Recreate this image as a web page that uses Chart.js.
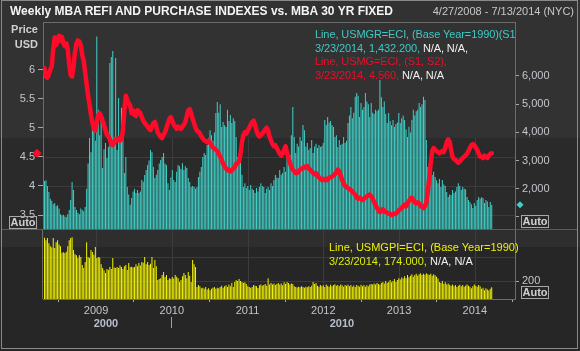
<!DOCTYPE html>
<html>
<head>
<meta charset="utf-8">
<script src="https://cdn.jsdelivr.net/npm/chart.js@4.4.1/dist/chart.umd.min.js"></script>
<style>
  body { margin: 0; background: #2b2b2b; }
  #stage { position: relative; width: 580px; height: 351px; overflow: hidden; background: #2b2b2b;
           font-family: "Liberation Sans", Arial, sans-serif; font-size: 11px; }
  .abs { position: absolute; }
  .txt { position: absolute; white-space: nowrap; line-height: 13px; }
  canvas { position: absolute; left: 0; }
  .auto { position: absolute; width: 26px; height: 11px; border: 1px solid #a8a8a8; color: #d0d0d0;
          font-weight: bold; line-height: 11px; text-align: center; }
  .na { color: #f0f0f0; }
</style>
</head>
<body>
<div id="stage">
  <!-- background bands -->
  <div class="abs" style="left:0;top:0;width:580px;height:138px;background:#323232"></div>
  <div class="abs" style="left:0;top:138px;width:580px;height:91px;background:#2a2a2a"></div>
  <div class="abs" style="left:0;top:229px;width:580px;height:18px;background:#2e2e2e"></div>
  <div class="abs" style="left:0;top:247px;width:580px;height:104px;background:#262626"></div>

  <!-- chart areas: top 22..229, bottom 229..299 (12px layout padding above/below) -->
  <canvas id="topChart" width="580" height="231" style="top:10px"></canvas>
  <canvas id="bottomChart" width="580" height="134" style="top:217px"></canvas>

  <!-- frame and panel separator -->
  <div class="abs" style="left:1px;top:229px;width:576px;height:1px;background:#5c5c5c"></div>
  <div class="abs" style="left:1px;top:0;width:575px;height:347px;border:1px solid #8a8a8a"></div>

  <div class="txt" style="left:10px;top:5px;color:#f4f4f4;font-weight:bold;font-size:12px">Weekly MBA REFI AND PURCHASE INDEXES vs. MBA 30 YR FIXED</div>
  <div class="txt" style="right:6px;top:5px;color:#c8c8c8">4/27/2008 - 7/13/2014 (NYC)</div>

  <div class="txt" style="left:0;width:38px;text-align:right;top:23px;color:#cfcfcf;font-weight:bold">Price</div>
  <div class="txt" style="left:0;width:38px;text-align:right;top:38px;color:#cfcfcf;font-weight:bold">USD</div>

  <div class="abs" style="left:315px;top:28px;width:200px;overflow:hidden;line-height:13.5px;white-space:nowrap;letter-spacing:-0.1px">
    <div style="color:#3ec9c6">Line, USMGR=ECI, (Base Year=1990)(S1, S2)</div>
    <div><span style="color:#3ec9c6" id="refiLast"></span> <span class="na">N/A, N/A,</span></div>
    <div style="color:#e8102a">Line, USMG=ECI, (S1, S2),</div>
    <div><span style="color:#e8102a" id="rateLast"></span> <span class="na">N/A, N/A</span></div>
  </div>

  <div class="abs" style="left:329px;top:240px;line-height:14px;white-space:nowrap">
    <div style="color:#f0f000">Line, USMGPI=ECI, (Base Year=1990)</div>
    <div><span style="color:#d8ec10" id="purchLast"></span> <span class="na">N/A, N/A</span></div>
  </div>

  <div class="auto" style="left:9px;top:216px">Auto</div>
  <div class="auto" style="left:521px;top:215px">Auto</div>
  <div class="auto" style="left:521px;top:286px">Auto</div>

  <div class="txt" style="left:86px;width:40px;text-align:center;top:317px;color:#b8bfcc;font-weight:bold">2000</div>
  <div class="abs" style="left:171px;top:317px;width:1px;height:11px;background:#a0a0a0"></div>
  <div class="txt" style="left:322px;width:40px;text-align:center;top:317px;color:#b8bfcc;font-weight:bold">2010</div>
</div>

<script>
// -------------------- DATA --------------------
// weekly observations, first week 4/27/2008, last week 3/23/2014
const firstWeek = 2008.32;
const xMin = 2008.30;
const xMax = 2014.53;

const yearTicks = [2009, 2010, 2011, 2012, 2013, 2014];
const priceTicks = [3.5, 4, 4.5, 5, 5.5, 6];
const refiTicks = [1000, 2000, 3000, 4000, 5000, 6000];
const purchaseTicks = [200, 300];

// MBA 30 yr fixed rate (USMG=ECI), left axis
const rate30yr = [
  6.02, 5.88, 5.86, 5.92, 6.0, 6.05, 6.35, 6.55, 6.42, 6.48,
  6.58, 6.5, 6.56, 6.45, 6.4, 6.45, 6.35, 6.1, 5.9, 5.88,
  6.05, 6.3, 6.45, 6.5, 6.48, 6.42, 6.25, 6.15, 5.95, 5.75,
  5.55, 5.4, 5.22, 5.08, 4.98, 4.95, 5.1, 5.22, 5.25, 5.2,
  5.12, 5.05, 4.95, 4.88, 4.85, 4.8, 4.72, 4.7, 4.75, 4.8,
  4.78, 4.82, 4.78, 4.8, 4.95, 5.3, 5.55, 5.48, 5.42, 5.38,
  5.25, 5.3, 5.22, 5.2, 5.3, 5.28, 5.25, 5.18, 5.12, 5.08,
  5.05, 5.02, 4.98, 4.96, 5.02, 5.08, 5.1, 5.02, 4.92, 4.88,
  4.84, 4.82, 4.88, 4.92, 5.0, 5.08, 5.15, 5.18, 5.12, 5.05,
  5.02, 4.98, 5.02, 5.0, 4.98, 5.02, 5.05, 5.1, 5.2, 5.3,
  5.32, 5.25, 5.15, 5.08, 5.0, 4.95, 4.93, 4.9, 4.85, 4.82,
  4.78, 4.77, 4.75, 4.78, 4.74, 4.7, 4.66, 4.64, 4.62, 4.6,
  4.55, 4.5, 4.45, 4.38, 4.34, 4.3, 4.27, 4.28, 4.25, 4.27,
  4.3, 4.32, 4.38, 4.4, 4.42, 4.55, 4.75, 4.88, 4.92, 4.9,
  4.95, 5.0, 5.05, 5.1, 5.12, 5.05, 4.95, 4.88, 4.85, 4.87,
  4.9, 4.93, 4.97, 5.0, 4.95, 4.85, 4.78, 4.72, 4.68, 4.7,
  4.65, 4.6, 4.55, 4.52, 4.55, 4.62, 4.68, 4.58, 4.48, 4.4,
  4.32, 4.28, 4.25, 4.22, 4.22, 4.25, 4.28, 4.3, 4.3, 4.33,
  4.32, 4.34, 4.3, 4.28, 4.25, 4.22, 4.2, 4.22, 4.18, 4.15,
  4.12, 4.1, 4.12, 4.1, 4.12, 4.1, 4.14, 4.15, 4.16, 4.18,
  4.2, 4.24, 4.28, 4.25, 4.18, 4.1, 4.05, 4.0, 3.98, 3.96,
  3.95, 3.93, 3.9, 3.88, 3.85, 3.8, 3.78, 3.8, 3.78, 3.76,
  3.78, 3.8, 3.82, 3.84, 3.85, 3.82, 3.78, 3.72, 3.68, 3.62,
  3.58, 3.55, 3.56, 3.6, 3.57, 3.55, 3.54, 3.52, 3.52, 3.5,
  3.51, 3.52, 3.52, 3.55, 3.58, 3.6, 3.62, 3.65, 3.68, 3.65,
  3.7, 3.74, 3.78, 3.8, 3.76, 3.72, 3.7, 3.72, 3.7, 3.66,
  3.64, 3.62, 3.65, 3.72, 3.9, 4.15, 4.4, 4.6, 4.65, 4.62,
  4.6, 4.58, 4.56, 4.58, 4.6, 4.58, 4.65, 4.75, 4.8, 4.76,
  4.62, 4.5, 4.46, 4.45, 4.42, 4.4, 4.42, 4.45, 4.48, 4.5,
  4.53, 4.55, 4.6, 4.65, 4.7, 4.72, 4.7, 4.66, 4.62, 4.56,
  4.5, 4.5, 4.48, 4.52, 4.5, 4.48, 4.52, 4.55, 4.56
];

// MBA refinance index (USMGR=ECI), right axis
const refiIndex = [
  2280, 2300, 2100, 1890, 1650, 1580, 1450, 1500, 1380, 1420,
  1300, 1100, 1050, 1080, 1020, 1000, 1100, 1250, 1600, 2240,
  1960, 1350, 1250, 1150, 1100, 1300, 1250, 1200, 1350, 2000,
  2900, 3800, 3300, 4200, 4150, 3700, 7400, 4800, 3900, 4500,
  2740, 3400, 3620, 3090, 3480, 6460, 6670, 6890, 3840, 6640,
  3380, 5220, 3840, 4870, 3980, 2560, 3130, 2060, 1800, 1430,
  1670, 1900, 2000, 1850, 1960, 1850, 1900, 2310, 2250, 2490,
  2670, 2840, 3000, 3380, 3300, 2770, 2380, 2500, 2670, 2900,
  3020, 3130, 3270, 2900, 2840, 2200, 1960, 2400, 2670, 2310,
  2240, 2600, 2840, 2800, 2700, 2910, 2670, 2800, 2740, 2380,
  2240, 2060, 2100, 2060, 2000, 2060, 2420, 2600, 2770, 3130,
  3270, 3200, 3550, 3800, 4080, 3900, 3700, 4000, 4690, 5080,
  4700, 5000, 4190, 4370, 4250, 4190, 4800, 4400, 4620, 4330,
  4500, 4400, 3840, 3130, 2910, 3000, 2500, 2060, 2200, 2030,
  2100, 1960, 2130, 2000, 1960, 1850, 2030, 1900, 2060, 2200,
  2100, 2060, 1850, 2000, 2060, 1960, 2200, 2100, 2310, 2490,
  2400, 2380, 2670, 2500, 2560, 2770, 2600, 3130, 3270, 3200,
  3900, 4900, 3840, 3270, 3600, 3500, 3840, 3700, 4260, 4080,
  3500, 3620, 3380, 3450, 3730, 3270, 3500, 3600, 3450, 3550,
  3480, 3520, 3620, 4440, 4260, 4550, 4350, 4400, 4260, 4190,
  3840, 3900, 3480, 3730, 3550, 3600, 3840, 3620, 3700, 4330,
  4600, 4900, 4500, 4700, 5260, 5400, 5300, 4550, 5040, 4800,
  4900, 5400, 5100, 5000, 4550, 5040, 4700, 4650, 4800, 4750,
  4800, 5860, 5250, 4900, 5100, 4650, 4330, 4690, 4400, 4250,
  4440, 4190, 4300, 4350, 4690, 4330, 4500, 4600, 4440, 4100,
  3840, 4200, 4000, 4440, 4800, 4600, 4750, 4800, 5040, 4900,
  5000, 5260, 5150, 3730, 2770, 2900, 2670, 2490, 2600, 2420,
  2300, 2200, 2350, 2060, 2310, 2150, 2100, 1890, 1710, 1800,
  1780, 1960, 1850, 1900, 2060, 2200, 2100, 1960, 2060, 2000,
  1980, 1710, 1600, 1530, 1450, 1320, 1500, 1400, 1600, 1710,
  1650, 1700, 1670, 1500, 1600, 1550, 1350, 1530, 1432.2
];

// MBA purchase index (USMGPI=ECI), lower panel
const purchaseIndex = [
  380, 370, 379, 358, 345, 340, 379, 338, 362, 370,
  352, 345, 318, 320, 317, 322, 345, 370, 379, 383,
  329, 312, 308, 296, 308, 300, 267, 254, 279, 362,
  300, 296, 329, 321, 310, 342, 296, 300, 298, 270,
  254, 245, 233, 250, 246, 258, 250, 296, 256, 254,
  258, 254, 265, 258, 250, 262, 267, 246, 275, 258,
  260, 256, 258, 270, 262, 275, 265, 279, 276, 300,
  270, 279, 267, 272, 300, 254, 288, 262, 204, 208,
  212, 225, 238, 218, 225, 204, 212, 208, 217, 210,
  225, 218, 212, 196, 204, 220, 233, 225, 212, 238,
  222, 196, 288, 270, 258, 175, 183, 178, 170, 172,
  168, 175, 165, 170, 162, 168, 172, 175, 168, 172,
  170, 175, 180, 172, 178, 182, 175, 185, 178, 192,
  175, 196, 204, 200, 208, 200, 196, 192, 195, 188,
  178, 175, 172, 175, 183, 180, 178, 171, 182, 186,
  180, 183, 188, 180, 212, 185, 192, 186, 190, 183,
  188, 192, 185, 190, 182, 195, 188, 196, 192, 185,
  190, 188, 178, 175, 173, 176, 174, 178, 175, 172,
  176, 174, 178, 175, 180, 196, 188, 192, 180, 176,
  183, 178, 182, 175, 186, 180, 176, 184, 178, 183,
  187, 180, 183, 178, 185, 182, 176, 183, 180, 184,
  178, 183, 176, 181, 175, 183, 180, 176, 184, 178,
  183, 176, 182, 178, 186, 188, 185, 190, 186, 192,
  188, 184, 192, 196, 190, 200, 192, 196, 204, 195,
  200, 208, 196, 204, 212, 206, 215, 210, 220, 212,
  225, 216, 222, 228, 218, 225, 230, 222, 228, 232,
  225, 230, 226, 232, 228, 225, 230, 222, 228, 224,
  218, 210, 196, 192, 200, 188, 195, 186, 190, 184,
  180, 186, 178, 183, 175, 180, 184, 178, 183, 176,
  180, 185, 180, 176, 170, 178, 185, 180, 176, 183,
  178, 168, 172, 162, 170, 165, 160, 168, 174
];

// week positions in decimal years
const weekX = refiIndex.map((_, i) => firstWeek + i * 7 / 365.25);

// -------------------- LEGEND TEXT --------------------
const lastOf = a => a[a.length - 1];
const fmt = v => v.toLocaleString("en-US", { minimumFractionDigits: 3, maximumFractionDigits: 3 });
document.getElementById("refiLast").innerText = "3/23/2014, " + fmt(lastOf(refiIndex)) + ",";
document.getElementById("rateLast").innerText = "3/23/2014, " + fmt(lastOf(rate30yr)) + ",";
document.getElementById("purchLast").innerText = "3/23/2014, " + fmt(lastOf(purchaseIndex)) + ",";

// -------------------- CHARTS --------------------
Chart.defaults.font.family = '"Liberation Sans", Arial, sans-serif';
Chart.defaults.font.size = 11;
Chart.defaults.color = "#c2c6cc";

const gridColor = "#3c3c3c";
const axisColor = "#6c6c6c";
const tickMark = "#a8a8a8";

function diamond(ctx, cx, cy, r, color) {
  ctx.fillStyle = color;
  ctx.beginPath();
  ctx.moveTo(cx, cy - r);
  ctx.lineTo(cx + r, cy);
  ctx.lineTo(cx, cy + r);
  ctx.lineTo(cx - r, cy);
  ctx.closePath();
  ctx.fill();
}

const topPanel = {
  id: "topPanel",
  beforeDraw(chart) {
    const { ctx, chartArea: a, scales } = chart;
    const darkTop = 128; // lighter band ends here (canvas y)
    ctx.save();
    ctx.strokeStyle = gridColor;
    ctx.lineWidth = 1;
    ctx.beginPath();
    yearTicks.forEach(v => {
      const px = Math.round(scales.x.getPixelForValue(v)) + 0.5;
      ctx.moveTo(px, darkTop);
      ctx.lineTo(px, a.bottom);
    });
    priceTicks.forEach(v => {
      const py = Math.round(scales.yL.getPixelForValue(v)) + 0.5;
      if (py > darkTop) {
        ctx.moveTo(a.left, py);
        ctx.lineTo(a.right, py);
      }
    });
    ctx.stroke();
    ctx.restore();
  },
  afterDraw(chart) {
    const { ctx, chartArea: a, scales } = chart;
    ctx.save();
    ctx.strokeStyle = axisColor;
    ctx.beginPath();
    ctx.moveTo(a.left, a.top + 0.5);
    ctx.lineTo(a.right, a.top + 0.5);
    ctx.stroke();
    diamond(ctx, a.left - 6, scales.yL.getPixelForValue(lastOf(rate30yr)), 4.5, "#ff0a28");
    diamond(ctx, a.right + 5, scales.yR.getPixelForValue(lastOf(refiIndex)), 3.5, "#40d0c8");
    ctx.restore();
  }
};

const bottomPanel = {
  id: "bottomPanel",
  beforeDraw(chart) {
    const { ctx, chartArea: a, scales } = chart;
    ctx.save();
    ctx.strokeStyle = gridColor;
    ctx.lineWidth = 1;
    ctx.beginPath();
    yearTicks.forEach(v => {
      const px = Math.round(scales.x.getPixelForValue(v)) + 0.5;
      ctx.moveTo(px, a.top);
      ctx.lineTo(px, a.bottom);
    });
    purchaseTicks.forEach(v => {
      const py = Math.round(scales.y.getPixelForValue(v)) + 0.5;
      ctx.moveTo(a.left, py);
      ctx.lineTo(a.right, py);
    });
    ctx.stroke();
    ctx.restore();
  },
  afterDraw(chart) {
    const { ctx, chartArea: a } = chart;
    ctx.save();
    ctx.strokeStyle = axisColor;
    ctx.beginPath();
    ctx.moveTo(Math.round(a.left) - 0.5, a.top);
    ctx.lineTo(Math.round(a.left) - 0.5, a.bottom);
    ctx.stroke();
    ctx.restore();
  }
};

new Chart(document.getElementById("topChart"), {
  type: "bar",
  data: {
    datasets: [
      {
        type: "line",
        label: "USMG=ECI",
        data: weekX.map((x, i) => ({ x: x, y: rate30yr[i] })),
        yAxisID: "yL",
        borderColor: "#ff0a28",
        borderWidth: 4.5,
        borderJoinStyle: "round",
        borderCapStyle: "round",
        pointRadius: 0,
        tension: 0,
        order: 0
      },
      {
        type: "bar",
        label: "USMGR=ECI",
        data: weekX.map((x, i) => ({ x: x, y: refiIndex[i] })),
        yAxisID: "yR",
        backgroundColor: "#40d0c8",
        barThickness: 1,
        inflateAmount: 0,
        order: 1
      }
    ]
  },
  options: {
    responsive: false,
    animation: false,
    layout: { padding: { top: 12, bottom: 12 } },
    plugins: { legend: { display: false }, tooltip: { enabled: false } },
    scales: {
      x: { type: "linear", min: xMin, max: xMax, offset: false, display: false },
      yL: {
        position: "left",
        min: 3.26,
        max: 6.816,
        afterBuildTicks: s => { s.ticks = priceTicks.map(v => ({ value: v })); },
        afterFit: s => { s.width = 43; },
        ticks: { padding: 3, callback: v => String(v) },
        grid: { drawOnChartArea: false, tickLength: 5, tickColor: tickMark },
        border: { color: axisColor }
      },
      yR: {
        position: "right",
        min: 574,
        max: 7915,
        afterBuildTicks: s => { s.ticks = refiTicks.map(v => ({ value: v })); },
        afterFit: s => { s.width = 65; },
        ticks: { padding: 3, callback: v => (v === 1000 ? "" : v.toLocaleString("en-US")) },
        grid: { drawOnChartArea: false, tickLength: 4, tickColor: tickMark },
        border: { color: axisColor }
      }
    }
  },
  plugins: [topPanel]
});

new Chart(document.getElementById("bottomChart"), {
  type: "bar",
  data: {
    datasets: [
      {
        label: "USMGPI=ECI",
        data: weekX.map((x, i) => ({ x: x, y: purchaseIndex[i] })),
        backgroundColor: "#f4f400",
        barThickness: 1,
        inflateAmount: 0
      }
    ]
  },
  options: {
    responsive: false,
    animation: false,
    layout: { padding: { left: 43, top: 12 } },
    plugins: { legend: { display: false }, tooltip: { enabled: false } },
    scales: {
      x: {
        type: "linear",
        min: xMin,
        max: xMax,
        offset: false,
        afterBuildTicks: s => { s.ticks = yearTicks.map(v => ({ value: v })); },
        afterFit: s => { s.height = 52; },
        ticks: { padding: 2, maxRotation: 0, callback: v => String(v) },
        grid: { drawOnChartArea: false, tickLength: 3, tickColor: tickMark },
        border: { color: axisColor }
      },
      y: {
        position: "right",
        min: 125,
        max: 417,
        afterBuildTicks: s => { s.ticks = purchaseTicks.map(v => ({ value: v })); },
        afterFit: s => { s.width = 65; },
        ticks: { padding: 3, callback: v => (v === 200 ? "200" : "") },
        grid: {
          drawOnChartArea: false,
          tickLength: 4,
          tickColor: c => (c.tick && c.tick.value === 200 ? tickMark : "rgba(0,0,0,0)")
        },
        border: { color: axisColor }
      }
    }
  },
  plugins: [bottomPanel]
});
</script>
</body>
</html>
